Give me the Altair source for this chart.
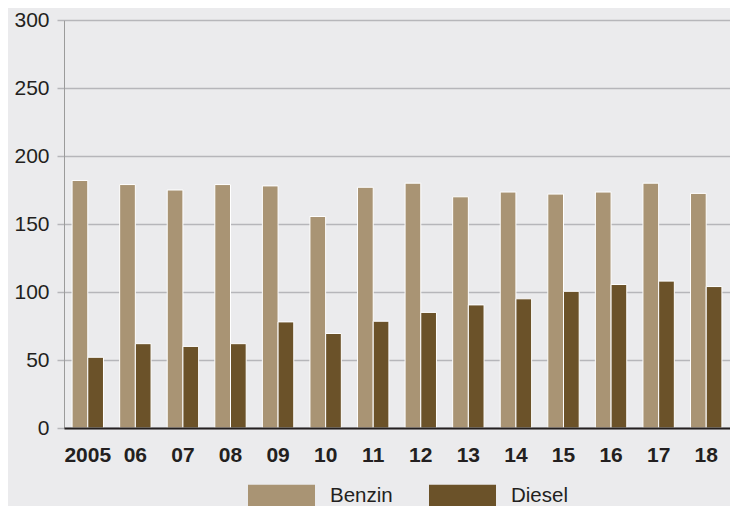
import altair as alt
import pandas as pd

years = ["2005", "06", "07", "08", "09", "10", "11", "12", "13", "14", "15", "16", "17", "18"]
benzin = [182, 179, 175, 179, 178, 155.5, 177, 180, 170, 173.5, 172, 173.5, 180, 172.5]
diesel = [52, 62, 60, 62, 78, 69.5, 78.5, 85, 90.5, 95, 100.5, 105.5, 108, 104]
series = ["Benzin", "Diesel"]
colors = ["#A99474", "#6B5229"]
y_ticks = [0, 50, 100, 150, 200, 250, 300]

rows = []
for i, yr in enumerate(years):
    rows.append({"Jahr": yr, "Kraftstoff": series[0], "Wert": benzin[i]})
    rows.append({"Jahr": yr, "Kraftstoff": series[1], "Wert": diesel[i]})
df = pd.DataFrame(rows)

FONT = "Liberation Sans"
TXT = "#231F20"
GRID = "#B6B6BA"

chart = alt.Chart(df).mark_bar(stroke="white", strokeWidth=1).encode(
    x=alt.X(
        "Jahr:N", sort=years,
        scale=alt.Scale(paddingInner=0.34, paddingOuter=0.17),
        axis=alt.Axis(title=None, labelAngle=0, labelFont=FONT, labelFontSize=21,
                      labelFontWeight="bold", labelColor=TXT, labelPadding=16,
                      ticks=False, domainColor=TXT, domainWidth=2, grid=False,
                      zindex=1),
    ),
    xOffset=alt.XOffset("Kraftstoff:N", sort=series,
                        scale=alt.Scale(paddingInner=0, paddingOuter=0)),
    y=alt.Y(
        "Wert:Q",
        scale=alt.Scale(domain=[0, 300], nice=False),
        axis=alt.Axis(title=None, values=y_ticks, labelFont=FONT, labelFontSize=21,
                      labelColor=TXT, labelPadding=8, tickSize=7, tickColor=GRID,
                      tickWidth=1.5, gridColor=GRID, gridWidth=1.5,
                      domainColor="#9B9B9B", domainWidth=1),
    ),
    color=alt.Color(
        "Kraftstoff:N", sort=series,
        scale=alt.Scale(domain=series, range=colors),
        legend=alt.Legend(title=None, orient="none", legendX=184, legendY=442,
                          direction="horizontal", symbolType="M-1,-0.33H1V0.33H-1Z",
                          symbolSize=4489, symbolStrokeWidth=0, labelFont=FONT,
                          labelFontSize=20.5, labelColor=TXT, labelOffset=15,
                          columnPadding=36, padding=0, symbolOpacity=1),
    ),
).properties(
    width=666, height=408,
    autosize=alt.AutoSizeParams(type="none"),
    padding={"left": 56, "top": 12, "right": 0, "bottom": 78},
    background="#EBEBED",
).configure_view(stroke=None)

chart.save("out.html", embed_options={"renderer": "svg", "actions": False})
